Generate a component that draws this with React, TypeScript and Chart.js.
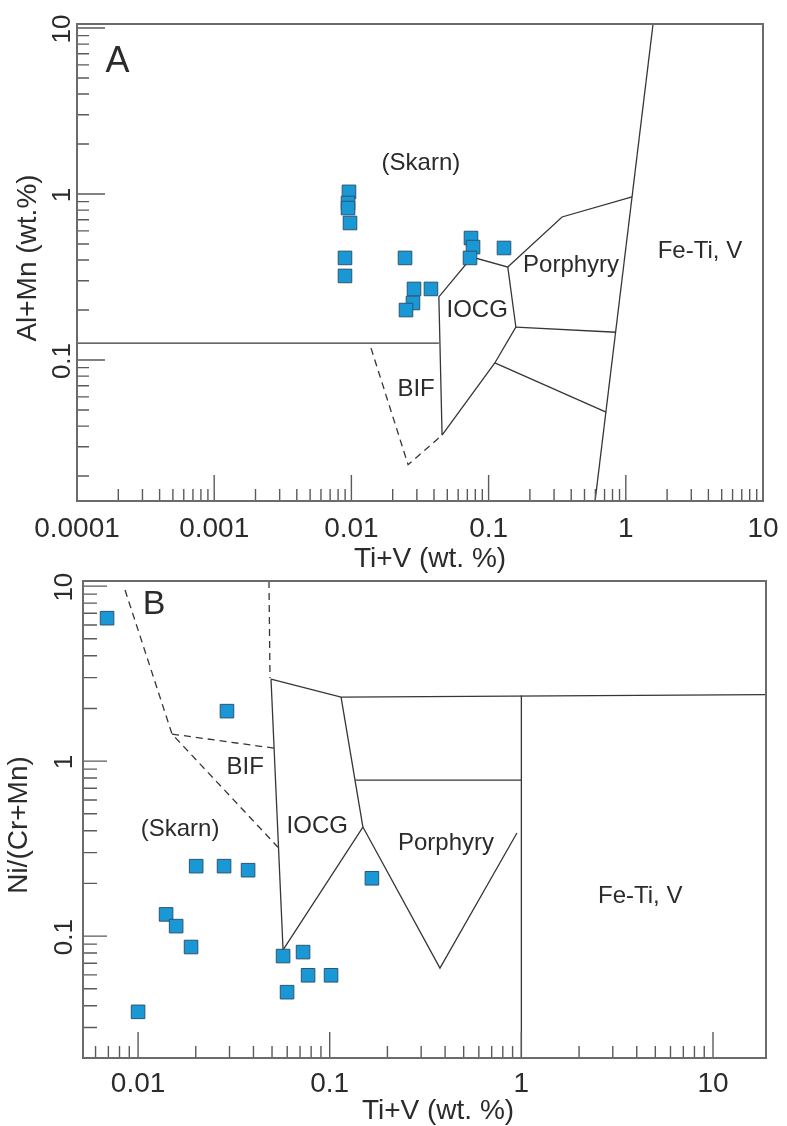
import React, { useEffect, useRef } from 'react';
import { Chart, registerables } from 'chart.js';

Chart.register(...registerables);

type Pt = [number, number];

const FONT = '"Liberation Sans", Arial, Helvetica, sans-serif';
const INK = '#2b2b2b';
const BOUNDARY = '#363636';
const FRAME = '#6b6b6b';
const TICK = '#5a5a5a';
const SQUARE_FILL = '#1a97d5';
const SQUARE_EDGE = '#2b5571';

// ---------------- Panel A : Al+Mn vs Ti+V ----------------
const A_TI_V = [0.0096, 0.00945, 0.00945, 0.00977, 0.00898, 0.00898, 0.0246, 0.0286, 0.038, 0.0281, 0.025, 0.0744, 0.077, 0.0732, 0.1295];
const A_AL_MN = [1.03, 0.883, 0.823, 0.669, 0.412, 0.321, 0.412, 0.268, 0.268, 0.2205, 0.2, 0.543, 0.479, 0.412, 0.473];

const A_X_TICKS = [0.0001, 0.001, 0.01, 0.1, 1, 10];
const A_X_TICK_LABELS = ['0.0001', '0.001', '0.01', '0.1', '1', '10'];
const A_Y_TICKS = [0.1, 1, 10];
const A_Y_TICK_LABELS = ['0.1', '1', '10'];

const A_SKARN_FLOOR: Pt[] = [[0.0001, 0.1264], [0.0434, 0.1264]];
const A_IOCG: Pt[] = [[0.0458, 0.0353], [0.0434, 0.24], [0.0756, 0.417], [0.138, 0.363], [0.158, 0.158], [0.111, 0.096], [0.0458, 0.0353]];
const A_PORPHYRY_TOP: Pt[] = [[0.138, 0.363], [0.343, 0.727], [1.11, 0.96]];
const A_PORPHYRY_BASE: Pt[] = [[0.158, 0.158], [0.849, 0.147]];
const A_LOWER_DIVIDE: Pt[] = [[0.111, 0.096], [0.718, 0.0485]];
const A_FETIV_EDGE: Pt[] = [[1.58, 10.57], [0.597, 0.01415]];
const A_BIF_DASHED: Pt[] = [[0.0139, 0.118], [0.0259, 0.0234], [0.0458, 0.0353]];

const A_REGION_NAMES = ['(Skarn)', 'Porphyry', 'Fe-Ti, V', 'IOCG', 'BIF'];
const A_REGION_AT: Pt[] = [[0.0321, 1.52], [0.399, 0.371], [3.47, 0.453], [0.0825, 0.198], [0.0296, 0.0667]];
const A_LETTER_AT: Pt = [0.000197, 6.2];

// ---------------- Panel B : Ni/(Cr+Mn) vs Ti+V ----------------
const B_TI_V = [0.00689, 0.0291, 0.0201, 0.0281, 0.0375, 0.014, 0.0158, 0.0189, 0.01, 0.0571, 0.0726, 0.0771, 0.1016, 0.0599, 0.166];
const B_NI_CRMN = [6.56, 1.93, 0.251, 0.251, 0.238, 0.133, 0.114, 0.0866, 0.0369, 0.0769, 0.081, 0.0597, 0.0597, 0.0478, 0.214];

const B_X_TICKS = [0.01, 0.1, 1, 10];
const B_X_TICK_LABELS = ['0.01', '0.1', '1', '10'];
const B_Y_TICKS = [0.1, 1, 10];
const B_Y_TICK_LABELS = ['0.1', '1', '10'];

const B_BIF_OUTER_DASHED: Pt[] = [[0.00855, 9.5], [0.01504, 1.427], [0.0537, 0.322]];
const B_BIF_TOP_DASHED: Pt[] = [[0.01504, 1.427], [0.0512, 1.186]];
const B_UPPER_DASHED: Pt[] = [[0.0482, 10.7], [0.0488, 2.98]];
const B_IOCG_TOP: Pt[] = [[0.0494, 2.94], [0.1146, 2.32], [18.9, 2.4]];
const B_IOCG_LEFT: Pt[] = [[0.0494, 2.94], [0.0571, 0.0833]];
const B_IOCG_RIGHT: Pt[] = [[0.1146, 2.32], [0.149, 0.42], [0.0571, 0.0833]];
const B_PORPHYRY_V: Pt[] = [[0.149, 0.42], [0.376, 0.0656], [0.948, 0.388]];
const B_PORPHYRY_TOP: Pt[] = [[0.136, 0.779], [1.0, 0.779]];
const B_FETIV_EDGE: Pt[] = [[1.0, 2.37], [1.0, 0.0201]];

const B_REGION_NAMES = ['BIF', '(Skarn)', 'IOCG', 'Porphyry', 'Fe-Ti, V'];
const B_REGION_AT: Pt[] = [[0.0362, 0.918], [0.01656, 0.406], [0.0861, 0.422], [0.4044, 0.34], [4.17, 0.168]];
const B_LETTER_AT: Pt = [0.01212, 7.79];

const X_TITLE = 'Ti+V (wt. %)';
const A_Y_TITLE = 'Al+Mn (wt.%)';
const B_Y_TITLE = 'Ni/(Cr+Mn)';

interface Spec {
  top: number;
  width: number;
  height: number;
  padding: { left: number; top: number; right: number; bottom: number };
  xMin: number; xMax: number; yMin: number; yMax: number;
  xTicks: number[]; xTickLabels: string[];
  yTicks: number[]; yTickLabels: string[];
  xs: number[]; ys: number[];
  solid: Pt[][]; dashed: Pt[][];
  regionNames: string[]; regionAt: Pt[];
  letter: string; letterAt: Pt; letterSize: number;
  yTitle: string;
  xTitlePos: [number, number];
  yTitlePos: [number, number];
  xLabelDrop: number;
  yLabelGap: number;
  xMajorLen: number; xMinorLen: number; yMajorLen: number; yMinorLen: number;
}

const SPEC_A: Spec = {
  top: 0, width: 787, height: 580,
  padding: { left: 77, top: 24, right: 24, bottom: 79 },
  xMin: 0.0001, xMax: 10, yMin: 0.01415, yMax: 10.57,
  xTicks: A_X_TICKS, xTickLabels: A_X_TICK_LABELS,
  yTicks: A_Y_TICKS, yTickLabels: A_Y_TICK_LABELS,
  xs: A_TI_V, ys: A_AL_MN,
  solid: [A_SKARN_FLOOR, A_IOCG, A_PORPHYRY_TOP, A_PORPHYRY_BASE, A_LOWER_DIVIDE, A_FETIV_EDGE],
  dashed: [A_BIF_DASHED],
  regionNames: A_REGION_NAMES, regionAt: A_REGION_AT,
  letter: 'A', letterAt: A_LETTER_AT, letterSize: 36,
  yTitle: A_Y_TITLE,
  xTitlePos: [430, 567],
  yTitlePos: [36, 258],
  xLabelDrop: 36,
  yLabelGap: 7,
  xMajorLen: 26, xMinorLen: 12, yMajorLen: 28, yMinorLen: 12,
};

const SPEC_B: Spec = {
  top: 565, width: 787, height: 561,
  padding: { left: 83, top: 16, right: 21, bottom: 68 },
  xMin: 0.00516, xMax: 18.9, yMin: 0.0201, yMax: 10.7,
  xTicks: B_X_TICKS, xTickLabels: B_X_TICK_LABELS,
  yTicks: B_Y_TICKS, yTickLabels: B_Y_TICK_LABELS,
  xs: B_TI_V, ys: B_NI_CRMN,
  solid: [B_IOCG_TOP, B_IOCG_LEFT, B_IOCG_RIGHT, B_PORPHYRY_V, B_PORPHYRY_TOP, B_FETIV_EDGE],
  dashed: [B_BIF_OUTER_DASHED, B_BIF_TOP_DASHED, B_UPPER_DASHED],
  regionNames: B_REGION_NAMES, regionAt: B_REGION_AT,
  letter: 'B', letterAt: B_LETTER_AT, letterSize: 34,
  yTitle: B_Y_TITLE,
  xTitlePos: [438, 554],
  yTitlePos: [27, 260],
  xLabelDrop: 34,
  yLabelGap: 11,
  xMajorLen: 26, xMinorLen: 12, yMajorLen: 24, yMinorLen: 14,
};

function logTicks(min: number, max: number) {
  const out: { v: number; major: boolean }[] = [];
  const e0 = Math.floor(Math.log10(min));
  const e1 = Math.ceil(Math.log10(max));
  for (let e = e0; e <= e1; e++) {
    for (let m = 1; m <= 9; m++) {
      const v = m * Math.pow(10, e);
      if (v >= min * 0.999 && v <= max * 1.001) out.push({ v, major: m === 1 });
    }
  }
  return out;
}

function paperPlugin(s: Spec) {
  return {
    id: 'paperAxes',
    afterDatasetsDraw(chart: any) {
      const { ctx, chartArea: a, scales } = chart;
      const xs = scales.x;
      const ys = scales.y;
      ctx.save();

      // inward ticks on the bottom and left axes
      ctx.strokeStyle = TICK;
      ctx.lineWidth = 1.4;
      ctx.beginPath();
      for (const t of logTicks(s.xMin, s.xMax)) {
        const px = xs.getPixelForValue(t.v);
        const len = t.major ? s.xMajorLen : s.xMinorLen;
        ctx.moveTo(px, a.bottom);
        ctx.lineTo(px, a.bottom - len);
      }
      for (const t of logTicks(s.yMin, s.yMax)) {
        const py = ys.getPixelForValue(t.v);
        const len = t.major ? s.yMajorLen : s.yMinorLen;
        ctx.moveTo(a.left, py);
        ctx.lineTo(a.left + len, py);
      }
      ctx.stroke();

      // frame
      ctx.strokeStyle = FRAME;
      ctx.lineWidth = 2;
      ctx.strokeRect(a.left, a.top, a.right - a.left, a.bottom - a.top);

      ctx.fillStyle = INK;

      // x tick labels
      ctx.font = `28px ${FONT}`;
      ctx.textAlign = 'center';
      ctx.textBaseline = 'alphabetic';
      s.xTicks.forEach((v, i) => {
        ctx.fillText(s.xTickLabels[i], xs.getPixelForValue(v), a.bottom + s.xLabelDrop);
      });

      // y tick labels (rotated)
      ctx.font = `26px ${FONT}`;
      s.yTicks.forEach((v, i) => {
        ctx.save();
        ctx.translate(a.left - s.yLabelGap, ys.getPixelForValue(v) + 1);
        ctx.rotate(-Math.PI / 2);
        ctx.textAlign = 'center';
        ctx.textBaseline = 'alphabetic';
        ctx.fillText(s.yTickLabels[i], 0, 0);
        ctx.restore();
      });

      // axis titles
      ctx.font = `28px ${FONT}`;
      ctx.textAlign = 'center';
      ctx.textBaseline = 'alphabetic';
      ctx.fillText(X_TITLE, s.xTitlePos[0], s.xTitlePos[1]);
      ctx.save();
      ctx.translate(s.yTitlePos[0], s.yTitlePos[1]);
      ctx.rotate(-Math.PI / 2);
      ctx.fillText(s.yTitle, 0, 0);
      ctx.restore();

      // field names
      ctx.font = `24px ${FONT}`;
      ctx.textBaseline = 'middle';
      s.regionNames.forEach((name, i) => {
        const [x, y] = s.regionAt[i];
        ctx.fillText(name, xs.getPixelForValue(x), ys.getPixelForValue(y));
      });

      // panel letter
      ctx.font = `${s.letterSize}px ${FONT}`;
      ctx.fillText(s.letter, xs.getPixelForValue(s.letterAt[0]), ys.getPixelForValue(s.letterAt[1]));

      ctx.restore();
    },
  };
}

function lineDataset(pts: Pt[], dashed: boolean) {
  return {
    type: 'scatter' as const,
    data: pts.map(([x, y]) => ({ x, y })),
    showLine: true,
    borderColor: BOUNDARY,
    borderWidth: 1.3,
    borderDash: dashed ? [7, 5] : [],
    pointRadius: 0,
    pointHoverRadius: 0,
    fill: false,
    tension: 0,
    order: 1,
  };
}

function Panel({ spec }: { spec: Spec }) {
  const ref = useRef<HTMLCanvasElement | null>(null);
  useEffect(() => {
    if (!ref.current) return;
    const datasets: any[] = [
      {
        type: 'scatter',
        data: spec.xs.map((x, i) => ({ x, y: spec.ys[i] })),
        pointStyle: 'rect',
        pointRadius: 9.6,
        pointHoverRadius: 9.6,
        backgroundColor: SQUARE_FILL,
        borderColor: SQUARE_EDGE,
        borderWidth: 1,
        showLine: false,
        order: 0,
      },
      ...spec.solid.map((p) => lineDataset(p, false)),
      ...spec.dashed.map((p) => lineDataset(p, true)),
    ];
    const chart = new Chart(ref.current, {
      type: 'scatter',
      data: { datasets },
      options: {
        responsive: false,
        maintainAspectRatio: false,
        animation: false,
        devicePixelRatio: 1,
        events: [],
        layout: { padding: spec.padding },
        plugins: {
          legend: { display: false },
          tooltip: { enabled: false },
        },
        scales: {
          x: { type: 'logarithmic', min: spec.xMin, max: spec.xMax, display: false, bounds: 'data' },
          y: { type: 'logarithmic', min: spec.yMin, max: spec.yMax, display: false, bounds: 'data' },
        },
      } as any,
      plugins: [paperPlugin(spec)],
    });
    return () => chart.destroy();
  }, [spec]);
  return (
    <canvas
      ref={ref}
      width={spec.width}
      height={spec.height}
      style={{ position: 'absolute', left: 0, top: spec.top, width: spec.width, height: spec.height }}
    />
  );
}

export default function App() {
  return (
    <div style={{ position: 'absolute', left: 0, top: 0, width: 787, height: 1126, background: '#ffffff', overflow: 'hidden' }}>
      <Panel spec={SPEC_A} />
      <Panel spec={SPEC_B} />
    </div>
  );
}
